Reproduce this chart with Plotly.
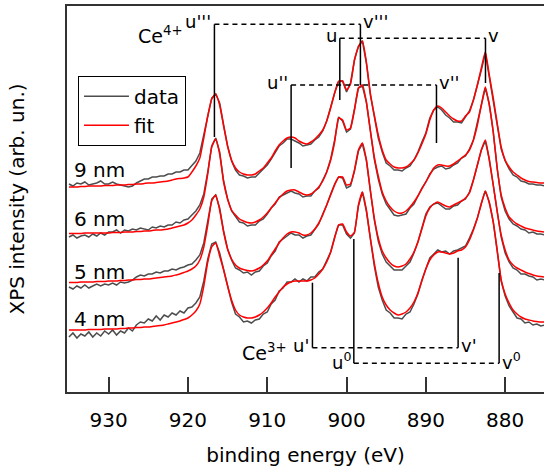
import plotly.graph_objects as go

FONT = "DejaVu Sans"

# binding energy grid (eV)
energy_eV = [935.0, 934.5, 934.0, 933.5, 933.0, 932.5, 932.0, 931.5, 931.0, 930.5,
             930.0, 929.5, 929.0, 928.5, 928.0, 927.5, 927.0, 926.5, 926.0, 925.5,
             925.0, 924.5, 924.0, 923.5, 923.0, 922.5, 922.0, 921.5, 921.0, 920.5,
             920.0, 919.5, 919.0, 918.5, 918.0, 917.5, 917.0, 916.5, 916.0, 915.5,
             915.0, 914.5, 914.0, 913.5, 913.0, 912.5, 912.0, 911.5, 911.0, 910.5,
             910.0, 909.5, 909.0, 908.5, 908.0, 907.5, 907.0, 906.5, 906.0, 905.5,
             905.0, 904.5, 904.0, 903.5, 903.0, 902.5, 902.0, 901.5, 901.0, 900.5,
             900.0, 899.5, 899.0, 898.5, 898.0, 897.5, 897.0, 896.5, 896.0, 895.5,
             895.0, 894.5, 894.0, 893.5, 893.0, 892.5, 892.0, 891.5, 891.0, 890.5,
             890.0, 889.5, 889.0, 888.5, 888.0, 887.5, 887.0, 886.5, 886.0, 885.5,
             885.0, 884.5, 884.0, 883.5, 883.0, 882.5, 882.0, 881.5, 881.0, 880.5,
             880.0, 879.5, 879.0, 878.5, 878.0, 877.5, 877.0, 876.5, 876.0, 875.5,
             875.0]

# ---- 9 nm ----
data_9nm = [208, 206, 209, 208, 210, 207, 208, 209, 211, 208,
            208, 210, 208, 207, 206, 205, 206, 209, 211, 213,
            213, 215, 215, 216, 216, 218, 218, 220, 220, 222,
            222, 226, 231, 239, 257, 278, 294, 298, 289, 267,
            246, 231, 222, 217, 216, 214, 215, 215, 219, 223,
            227, 233, 239, 246, 249, 253, 253, 251, 249, 246,
            247, 248, 252, 255, 261, 271, 285, 299, 310, 311,
            300, 309, 332, 346, 351, 329, 297, 275, 254, 240,
            229, 226, 222, 222, 221, 224, 226, 232, 240, 250,
            259, 274, 282, 285, 282, 277, 274, 270, 270, 269,
            275, 281, 292, 306, 322, 339, 316, 292, 268, 243,
            231, 223, 217, 215, 211, 210, 208, 208, 207, 207,
            206]
fit_9nm = [205, 205, 205, 205.5, 205.5, 206, 206, 206, 206, 206.5,
           206.5, 206.5, 207, 207, 207, 207.5, 207.5, 208, 208, 208.5,
           209, 209, 209.5, 210, 210.5, 211, 212, 213, 213.5, 214,
           215, 220, 226, 234, 254, 276, 293, 298, 287, 266,
           246, 232, 224, 220, 218, 217, 217, 218, 221, 224,
           229, 234, 241, 247, 251, 254, 255, 254, 251, 249,
           248, 250, 253, 257, 262, 271, 284, 299, 311, 311,
           302, 308, 332, 345, 351, 330, 299, 277, 257, 242,
           232, 228, 225, 224, 224, 225, 228, 232, 239, 248,
           258, 272, 282, 286, 284, 280, 276, 273, 271, 271,
           276, 280, 292, 307, 324, 340, 317, 294, 269, 245,
           232, 225, 220, 217, 214, 212, 210.5, 210, 209.5, 209,
           209]

# ---- 6 nm ----
data_6nm = [155, 157, 154, 156, 157, 155, 158, 156, 159, 157,
            160, 160, 162, 159, 162, 161, 163, 162, 164, 163,
            162, 165, 164, 166, 165, 167, 167, 170, 169, 172,
            173, 177, 181, 187, 198, 220, 246, 254, 240, 211,
            193, 181, 175, 170, 169, 166, 167, 167, 171, 173,
            178, 184, 188, 195, 197, 199, 201, 199, 198, 195,
            196, 196, 201, 204, 212, 220, 233, 252, 275, 271,
            260, 263, 283, 304, 306, 290, 261, 233, 213, 198,
            188, 183, 177, 176, 177, 178, 184, 188, 196, 204,
            210, 218, 223, 225, 226, 223, 224, 227, 229, 234,
            236, 243, 252, 268, 287, 304, 288, 260, 223, 195,
            181, 173, 168, 166, 163, 162, 159, 160, 158, 158,
            157]
fit_6nm = [158.5, 158.5, 158.5, 158.5, 159, 159, 159, 159, 159, 159,
           159, 159.5, 159.5, 159.5, 160, 160, 160, 160.5, 160.5, 161,
           161, 161.5, 162, 162, 162.5, 163, 164, 165, 166, 167,
           169, 172, 177, 183, 195, 218, 245, 253, 238, 210,
           193, 182, 177, 173, 171, 169.5, 169, 170, 172, 175,
           179, 184, 189, 194, 198, 201, 202, 202, 200, 198,
           197, 198, 201, 205, 211, 220, 232, 250, 274, 272,
           262, 264, 282, 304, 307, 290, 262, 235, 216, 200,
           191, 185, 181, 179, 179, 181, 185, 190, 196, 203,
           210, 217, 224, 227, 227, 226, 226, 228, 231, 234,
           237, 242, 252, 267, 287, 305, 287, 260, 224, 197,
           184, 175, 171, 168, 166, 164, 163, 162, 161, 160.5,
           160]

# ---- 5 nm ----
data_5nm = [105, 103, 106, 104, 107, 104, 106, 108, 106, 108,
            107, 109, 107, 110, 109, 110, 112, 115, 117, 116,
            118, 118, 120, 119, 121, 121, 123, 122, 124, 125,
            127, 128, 132, 137, 149, 170, 193, 197, 184, 161,
            143, 132, 124, 122, 119, 120, 117, 120, 121, 126,
            129, 136, 141, 150, 153, 156, 159, 157, 157, 154,
            156, 157, 163, 168, 178, 187, 198, 208, 215, 214,
            204, 206, 221, 241, 248, 232, 201, 172, 151, 138,
            130, 126, 122, 122, 122, 126, 130, 139, 150, 164,
            178, 185, 188, 189, 186, 183, 183, 186, 187, 191,
            193, 200, 212, 228, 242, 251, 233, 207, 179, 155,
            139, 130, 124, 122, 118, 118, 116, 115, 112, 113,
            112]
fit_5nm = [109.5, 109.5, 109.5, 110, 110, 110, 110, 110.5, 110.5, 110.5,
           111, 111, 111, 111.5, 111.5, 112, 112, 112.5, 112.5, 113,
           113, 113.5, 114, 114.5, 115, 115.5, 116, 117, 118, 119.5,
           121, 123, 126, 132, 145, 167, 191, 197, 182, 160,
           143, 133, 127, 124, 122.5, 121.5, 121, 122, 124, 127,
           131, 137, 143, 149, 154, 158, 160, 160, 159, 157,
           157, 159, 163, 169, 177, 187, 197, 207, 215, 215,
           207, 208, 222, 242, 249, 232, 202, 174, 154, 141,
           134, 129, 126, 125, 126, 128, 133, 140, 150, 163,
           176, 184, 188, 190, 188, 186, 185, 187, 189, 191,
           194, 199, 212, 227, 242, 252, 232, 207, 180, 157,
           142, 132, 127, 124, 122, 120, 118.5, 117, 116, 115.5,
           115]

# ---- 4 nm ----
data_4nm = [55, 59, 54, 58, 56, 60, 55, 59, 56, 61,
            58, 62, 57, 61, 59, 64, 61, 67, 70, 69,
            73, 71, 76, 72, 77, 75, 79, 77, 81, 79,
            84, 85, 89, 95, 111, 133, 148, 150, 139, 123,
            105, 90, 78, 75, 70, 71, 69, 72, 73, 78,
            80, 88, 92, 101, 104, 110, 110, 113, 110, 113,
            111, 115, 115, 120, 123, 131, 140, 155, 167, 167,
            158, 154, 159, 186, 200, 181, 152, 126, 105, 92,
            82, 79, 74, 74, 73, 78, 80, 88, 98, 112,
            123, 134, 138, 142, 140, 141, 138, 141, 142, 144,
            146, 154, 163, 174, 189, 201, 190, 170, 143, 111,
            96, 86, 80, 74, 73, 69, 70, 67, 68, 66,
            67]
fit_4nm = [62, 62, 62, 62, 62, 62.5, 62.5, 62.5, 62.5, 63,
           63, 63, 63, 63.5, 63.5, 64, 64, 64.5, 64.5, 65,
           65, 65.5, 66, 66.5, 67, 68, 69, 70, 71, 72.5,
           74, 77, 81, 88, 106, 130, 145, 149, 136, 122,
           106, 92, 82, 77, 75, 74, 74, 75, 77, 80,
           84, 89, 95, 100, 105, 108, 110, 111, 111, 111,
           111, 112, 114, 118, 123, 130, 140, 154, 167, 168,
           160, 156, 160, 187, 200, 182, 154, 129, 109, 95,
           87, 82, 79, 77, 78, 80, 84, 90, 99, 111,
           123, 132, 137, 140, 140, 139, 138, 139, 141, 142,
           145, 152, 162, 174, 188, 201, 189, 170, 142, 112,
           98, 89, 82, 78, 75, 73, 72, 71, 70.5, 70,
           70]

sample_names = ["9 nm", "6 nm", "5 nm", "4 nm"]
sample_label_y = [222, 173, 120, 73]

# Ce 4+ doublets
ce4_u_labels = ["u'''", "u", "u''"]
ce4_v_labels = ["v'''", "v", "v''"]
ce4_u_energy = [916.66, 900.85, 906.99]
ce4_v_energy = [898.25, 882.48, 888.66]
ce4_level = [367.7, 353.7, 307.0]
ce4_u_end = [255.0, 292.0, 224.0]
ce4_v_end = [307.0, 309.0, 249.0]

# Ce 3+ doublets
ce3_u_labels = ["u'", "u<sup>0</sup>"]
ce3_v_labels = ["v'", "v<sup>0</sup>"]
ce3_u_energy = [904.30, 899.08]
ce3_v_energy = [885.93, 880.76]
ce3_level = [44.3, 28.7]
ce3_u_end = [109.3, 153.0]
ce3_v_end = [134.3, 119.0]

x_ticks = [930, 920, 910, 900, 890, 880]

fig = go.Figure()
series = [(data_9nm, fit_9nm), (data_6nm, fit_6nm), (data_5nm, fit_5nm), (data_4nm, fit_4nm)]
for i, (d, f) in enumerate(series):
    fig.add_trace(go.Scatter(x=energy_eV, y=d, mode="lines", name="data",
                             legendgroup="data", showlegend=(i == 0),
                             line=dict(color="#4d4d4d", width=1.5)))
    fig.add_trace(go.Scatter(x=energy_eV, y=f, mode="lines", name="fit",
                             legendgroup="fit", showlegend=(i == 0),
                             line=dict(color="#ff0000", width=1.5, shape="spline", smoothing=0.5)))

LINE = dict(color="black", width=1.5)
DASH = dict(color="black", width=1.5, dash="5px,4px")

for k in range(3):
    fig.add_shape(type="line", xref="x", yref="y", x0=ce4_u_energy[k], x1=ce4_u_energy[k],
                  y0=ce4_level[k], y1=ce4_u_end[k], line=LINE)
    fig.add_shape(type="line", xref="x", yref="y", x0=ce4_v_energy[k], x1=ce4_v_energy[k],
                  y0=ce4_level[k], y1=ce4_v_end[k], line=LINE)
    fig.add_shape(type="line", xref="x", yref="y", x0=ce4_u_energy[k], x1=ce4_v_energy[k],
                  y0=ce4_level[k], y1=ce4_level[k], line=DASH)
    fig.add_annotation(x=ce4_u_energy[k], y=ce4_level[k], text=ce4_u_labels[k], showarrow=False,
                       xanchor="right", yanchor="middle", xshift=-1, yshift=3,
                       font=dict(size=18, family=FONT, color="black"))
    fig.add_annotation(x=ce4_v_energy[k], y=ce4_level[k], text=ce4_v_labels[k], showarrow=False,
                       xanchor="left", yanchor="middle", xshift=1, yshift=3,
                       font=dict(size=18, family=FONT, color="black"))

for k in range(2):
    fig.add_shape(type="line", xref="x", yref="y", x0=ce3_u_energy[k], x1=ce3_u_energy[k],
                  y0=ce3_level[k], y1=ce3_u_end[k], line=LINE)
    fig.add_shape(type="line", xref="x", yref="y", x0=ce3_v_energy[k], x1=ce3_v_energy[k],
                  y0=ce3_level[k], y1=ce3_v_end[k], line=LINE)
    fig.add_shape(type="line", xref="x", yref="y", x0=ce3_u_energy[k], x1=ce3_v_energy[k],
                  y0=ce3_level[k], y1=ce3_level[k], line=DASH)
    fig.add_annotation(x=ce3_u_energy[k], y=ce3_level[k], text=ce3_u_labels[k], showarrow=False,
                       xanchor="right", yanchor="middle", xshift=-1, yshift=2,
                       font=dict(size=18, family=FONT, color="black"))
    fig.add_annotation(x=ce3_v_energy[k], y=ce3_level[k], text=ce3_v_labels[k], showarrow=False,
                       xanchor="left", yanchor="middle", xshift=1, yshift=2,
                       font=dict(size=18, family=FONT, color="black"))

fig.add_annotation(x=923.4, y=357, text="Ce<sup>4+</sup>", showarrow=False,
                   xanchor="center", yanchor="middle", font=dict(size=19, family=FONT, color="black"))
fig.add_annotation(x=910.4, y=40, text="Ce<sup>3+</sup>", showarrow=False,
                   xanchor="center", yanchor="middle", font=dict(size=19, family=FONT, color="black"))

for name, yv in zip(sample_names, sample_label_y):
    fig.add_annotation(x=934.6, y=yv, text=name, showarrow=False, xanchor="left",
                       yanchor="middle", font=dict(size=20, family=FONT, color="black"))

fig.update_layout(
    width=544, height=473,
    margin=dict(l=67, r=0, t=6, b=81),
    paper_bgcolor="white", plot_bgcolor="white",
    font=dict(family=FONT, size=20, color="black"),
    showlegend=True,
    legend=dict(x=0.023, y=0.819, xanchor="left", yanchor="top",
                bordercolor="black", borderwidth=1, bgcolor="white", itemwidth=45,
                font=dict(size=20, family=FONT), tracegroupgap=0),
    xaxis=dict(range=[935.25, 875.1], tickvals=x_ticks, ticks="inside", ticklen=15,
               tickwidth=2, tickcolor="#333333", showline=True, linecolor="#333333",
               linewidth=2, mirror=True, showgrid=False, zeroline=False, automargin=False,
               tickfont=dict(size=20, family=FONT), ticklabelstandoff=9,
               title=dict(text="binding energy (eV)", standoff=17, font=dict(size=20, family=FONT))),
    yaxis=dict(range=[0, 386], showticklabels=False, ticks="", showline=True, automargin=False,
               linecolor="#333333", linewidth=2, showgrid=False, zeroline=False,
               title=dict(text="XPS intensity (arb. un.)", standoff=35, font=dict(size=20, family=FONT))),
)

fig.write_html("out.html", config={"displayModeBar": False},
               post_script="document.body.style.margin='0';document.body.style.padding='0';")
